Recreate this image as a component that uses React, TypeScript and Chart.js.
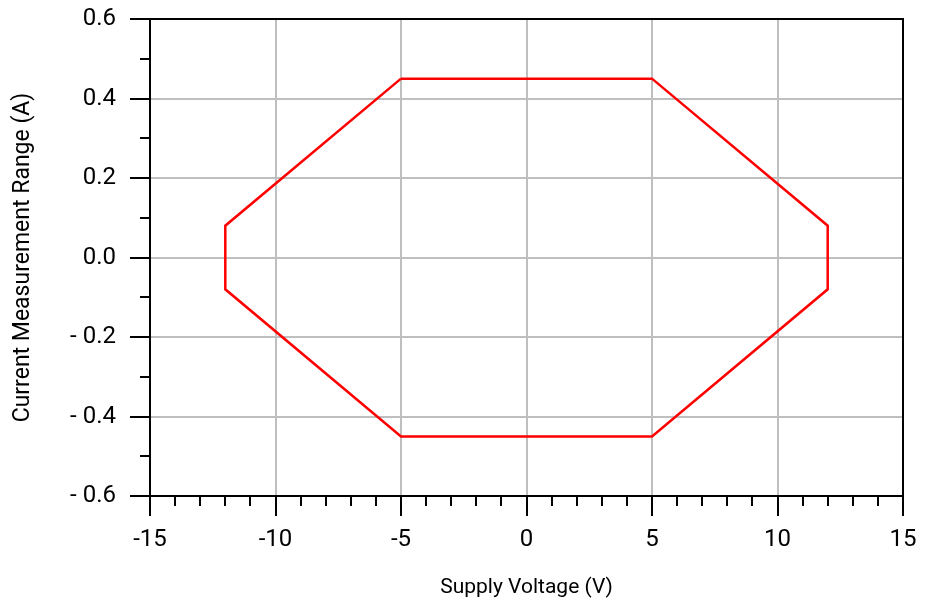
import React, { useEffect, useRef } from "react";
import { Chart, registerables } from "chart.js";

Chart.register(...registerables);

const voltage = [-5, 5, 12, 12, 5, -5, -12, -12, -5];
const current = [0.45, 0.45, 0.08, -0.08, -0.45, -0.45, -0.08, 0.08, 0.45];
const xMin = -15, xMax = 15, xStep = 5, xMinor = 1;
const yMin = -0.6, yMax = 0.6, yStep = 0.2, yMinor = 0.1;
const xTitle = "Supply Voltage (V)";
const yTitle = "Current Measurement Range (A)";

const FONT = "Roboto, 'Noto Sans', sans-serif";

const framePlugin = {
  id: "frame",
  afterDraw(chart: any) {
    const { ctx, chartArea } = chart;
    const xs = chart.scales.x;
    const ys = chart.scales.y;
    ctx.save();
    ctx.strokeStyle = "#000";
    ctx.lineWidth = 2;
    ctx.beginPath();
    for (let v = xMin; v <= xMax + 1e-9; v += xMinor) {
      if (Math.abs(v % xStep) < 1e-9) continue;
      const px = Math.round(xs.getPixelForValue(v));
      ctx.moveTo(px, chartArea.bottom);
      ctx.lineTo(px, chartArea.bottom + 10);
    }
    const n = Math.round((yMax - yMin) / yMinor);
    for (let i = 0; i <= n; i++) {
      if (i % 2 === 0) continue;
      const v = yMin + i * yMinor;
      const py = Math.round(ys.getPixelForValue(v));
      ctx.moveTo(chartArea.left - 10, py);
      ctx.lineTo(chartArea.left, py);
    }
    ctx.moveTo(chartArea.left - 1, chartArea.top);
    ctx.lineTo(chartArea.right, chartArea.top);
    ctx.lineTo(chartArea.right, chartArea.bottom);
    ctx.stroke();
    ctx.restore();
  },
};

export default function App() {
  const ref = useRef<HTMLCanvasElement>(null);
  useEffect(() => {
    document.body.style.margin = "0";
    const chart = new Chart(ref.current!, {
      type: "scatter",
      data: {
        datasets: [
          {
            data: voltage.map((x, i) => ({ x, y: current[i] })),
            showLine: true,
            borderColor: "#ff0000",
            borderWidth: 2.5,
            pointRadius: 0,
            fill: false,
          },
        ],
      },
      options: {
        animation: false,
        responsive: false,
        maintainAspectRatio: false,
        layout: { padding: { top: 19, right: 23, left: 0, bottom: 0 } },
        plugins: { legend: { display: false }, tooltip: { enabled: false } },
        scales: {
          x: {
            type: "linear",
            min: xMin,
            max: xMax,
            afterFit: (s: any) => {
              s.height = 104;
              s.paddingLeft = 0;
              s.paddingRight = 0;
            },
            ticks: {
              stepSize: xStep,
              color: "#000",
              font: { family: FONT, size: 24 },
              padding: 10,
              callback: (v: any) => String(Math.round(v)),
            },
            grid: {
              color: (c: any) => {
                const v = c.tick?.value;
                return v === xMin || v === xMax ? "rgba(0,0,0,0)" : "#bfbfbf";
              },
              lineWidth: 2,
              tickColor: "#000",
              tickWidth: 2,
              tickLength: 20,
            },
            border: { display: true, color: "#000", width: 2 },
            title: {
              display: true,
              text: xTitle,
              color: "#000",
              font: { family: FONT, size: 21 },
              padding: { top: 0, bottom: 0 },
            },
          },
          y: {
            type: "linear",
            min: yMin,
            max: yMax,
            afterFit: (s: any) => {
              s.width = 150;
              s.paddingTop = 0;
              s.paddingBottom = 0;
            },
            ticks: {
              stepSize: yStep,
              color: "#000",
              font: { family: FONT, size: 24 },
              padding: 14,
              callback: (v: any) => {
                const r = Math.round(v * 10) / 10;
                return r < 0 ? "- " + Math.abs(r).toFixed(1) : r.toFixed(1);
              },
            },
            grid: {
              color: (c: any) => {
                const v = c.tick?.value;
                return v === undefined || Math.abs(Math.abs(v) - 0.6) < 1e-6 ? "rgba(0,0,0,0)" : "#bfbfbf";
              },
              lineWidth: 2,
              tickColor: "#000",
              tickWidth: 2,
              tickLength: 20,
            },
            border: { display: true, color: "#000", width: 2 },
            title: {
              display: true,
              text: yTitle,
              color: "#000",
              font: { family: FONT, size: 23 },
              padding: { top: 9, bottom: 0 },
            },
          },
        },
      },
      plugins: [framePlugin],
    });
    return () => chart.destroy();
  }, []);
  return (
    <div style={{ position: "absolute", left: 0, top: 0, width: 926, height: 600, background: "#fff" }}>
      <canvas ref={ref} width={926} height={600} style={{ width: 926, height: 600 }} />
    </div>
  );
}
